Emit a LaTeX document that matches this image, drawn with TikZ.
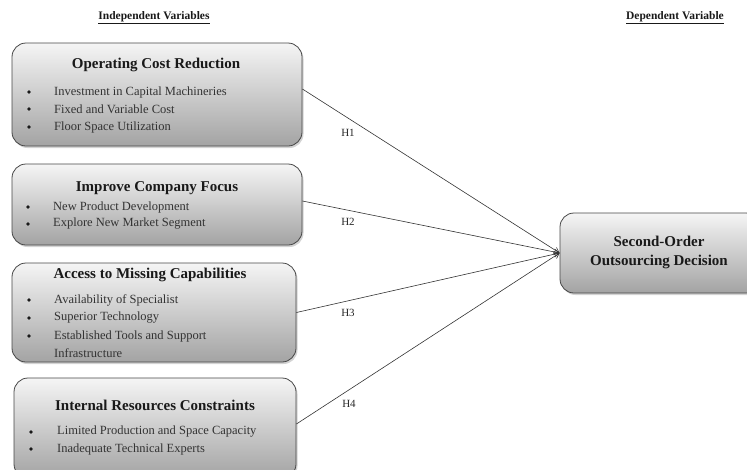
\documentclass[tikz,border=0pt]{standalone}
\usepackage{fontspec}
\setmainfont{Liberation Serif}
\usetikzlibrary{shadows,arrows.meta}
\begin{document}
\begin{tikzpicture}[x=1pt,y=-1pt,
 box/.style={draw=black!72, line width=0.8pt, rounded corners=14pt, top color=black!4, bottom color=black!36,
   drop shadow={shadow xshift=1.5pt,shadow yshift=-2pt,opacity=0.35}, inner sep=0pt},
 ttl/.style={font=\bfseries\fontsize{15}{17}\selectfont, text=black!90, inner sep=0pt},
 itm/.style={font=\fontsize{12.5}{14}\selectfont, text=black!80, anchor=west, inner sep=0pt},
 bul/.style={circle, fill=black!90, inner sep=0pt, minimum size=3.8pt},
 hd/.style={font=\bfseries\fontsize{11.5}{13}\selectfont, text=black!90, inner sep=0pt},
 hyp/.style={font=\fontsize{11}{13}\selectfont, text=black!85, inner sep=0pt},
 link/.style={draw=black!80, line width=0.6pt, -{Straight Barb[length=5pt,width=6pt]}}
]
\useasboundingbox (0,0) rectangle (747,469);
\clip (0,0) rectangle (747,469);

% headings
\node[hd] (hdi) at (154,18) {\underline{Independent Variables}};
\node[hd] (hdd) at (675,18) {\underline{Dependent Variable}};

% boxes
\node[box, minimum width=290pt, minimum height=103pt] (b1) at (157,94.5) {};
\node[box, minimum width=290pt, minimum height=81pt] (b2) at (157,204.5) {};
\node[box, minimum width=284pt, minimum height=99pt] (b3) at (154,312.5) {};
\node[box, minimum width=282pt, minimum height=100pt] (b4) at (155,428) {};
\node[box, minimum width=200pt, minimum height=80pt] (out) at (660,253) {};

% box 1
\node[ttl] (t1) at (156,65) {Operating Cost Reduction};
\foreach \y/\t [count=\i] in {92/Investment in Capital Machineries,109/Fixed and Variable Cost,127/Floor Space Utilization}{
  \node[bul] (p1\i) at (29,\y) {};
  \node[itm] (i1\i) at (54,\y) {\t};
}
% box 2
\node[ttl] (t2) at (157,188) {Improve Company Focus};
\foreach \y/\t [count=\i] in {207/New Product Development,224/Explore New Market Segment}{
  \node[bul] (p2\i) at (28,\y) {};
  \node[itm] (i2\i) at (53,\y) {\t};
}
% box 3
\node[ttl] (t3) at (150,275) {Access to Missing Capabilities};
\foreach \y/\t [count=\i] in {300/Availability of Specialist,318/Superior Technology,336/Established Tools and Support}{
  \node[bul] (p3\i) at (29,\y) {};
  \node[itm] (i3\i) at (54,\y) {\t};
}
\node[itm] (i34) at (54,353) {Infrastructure};
% box 4
\node[ttl] (t4) at (155,405) {Internal Resources Constraints};
\foreach \y/\t [count=\i] in {432/Limited Production and Space Capacity,449/Inadequate Technical Experts}{
  \node[bul] (p4\i) at (31,\y) {};
  \node[itm] (i4\i) at (57,\y) {\t};
}

% dependent
\node[ttl, align=center, font=\bfseries\fontsize{15}{19}\selectfont] (to) at (659,252.5) {Second-Order\\Outsourcing Decision};

% links
\draw[link] ([yshift=5.5pt]b1.east) -- (out.west);
\draw[link] ([yshift=3.5pt]b2.east) -- (out.west);
\draw[link] (b3.east) -- (out.west);
\draw[link] ([yshift=4pt]b4.east) -- (out.west);

\node[hyp] (h1) at (348,133) {H1};
\node[hyp] (h2) at (348,222) {H2};
\node[hyp] (h3) at (348,313) {H3};
\node[hyp] (h4) at (349,404) {H4};
\end{tikzpicture}
\end{document}
